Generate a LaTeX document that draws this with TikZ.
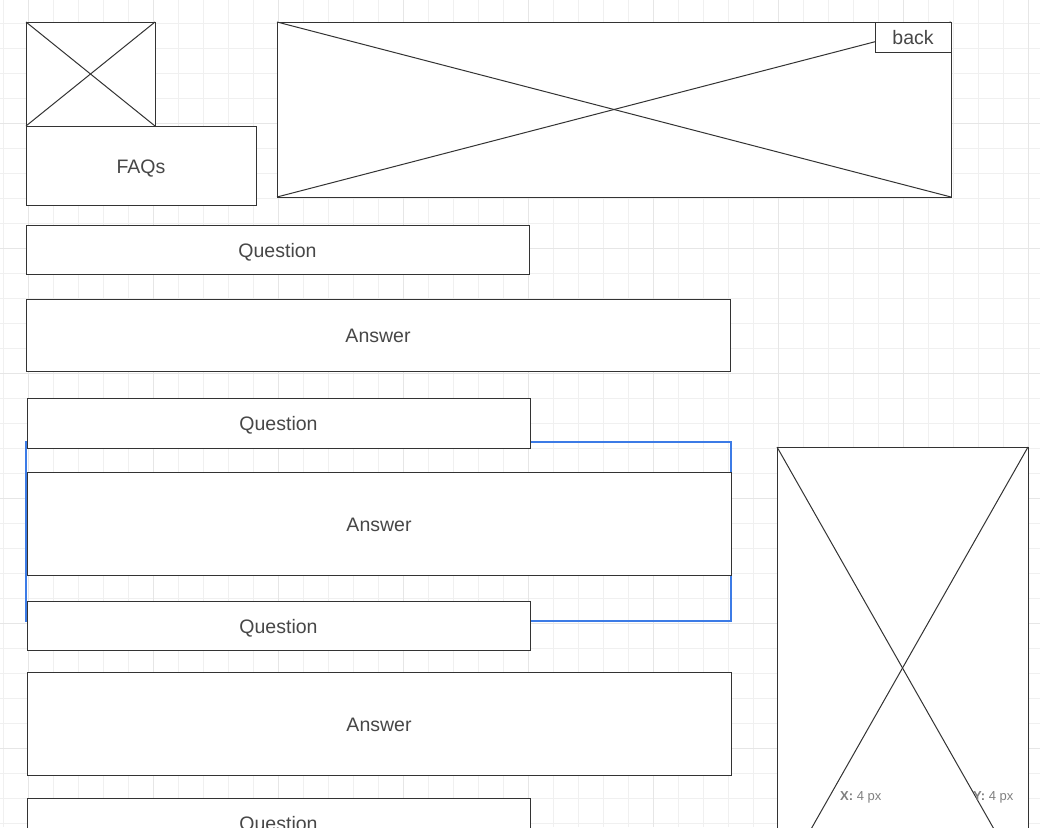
\documentclass[tikz,border=0pt]{standalone}
\usepackage{fontspec}
\setmainfont{Liberation Sans}
\usetikzlibrary{positioning}
\definecolor{ink}{HTML}{333333}
\definecolor{label}{HTML}{474747}
\definecolor{gridminor}{HTML}{F0F0F0}
\definecolor{gridmajor}{HTML}{E6E6E6}
\definecolor{selblue}{HTML}{3C7BE6}
\tikzset{box/.style = {draw=ink, fill=white, line width=1pt, inner sep=0, outer sep=0, anchor=north west,
                       text=label, text height=15pt, text depth=0pt, font=\fontsize{19.5}{23}\selectfont}}
\tikzset{cross/.style = {draw=ink, line width=1pt}}
\tikzset{coordlabel/.style = {text=gray, font=\fontsize{13}{15}\selectfont, inner sep=0, anchor=west}}

\begin{document}
\begin{tikzpicture}[x=1pt, y=-1pt]
  \useasboundingbox (0,0) rectangle (1040,827);
  \clip (0,0) rectangle (1040,827);
  \fill [white] (0,0) rectangle (1040,827);

  \foreach \g in {0,...,41} \draw [gridminor, line width=0.9pt] (3+25*\g,0) -- (3+25*\g,827);
  \foreach \g in {1,...,33} \draw [gridminor, line width=0.9pt] (0,-2+25*\g) -- (1040,-2+25*\g);
  \foreach \g in {0,...,8} \draw [gridmajor, line width=1pt] (28+125*\g,0) -- (28+125*\g,827);
  \foreach \g in {1,...,6} \draw [gridmajor, line width=1pt] (0,-2+125*\g) -- (1040,-2+125*\g);

  \draw [selblue, line width=1.2pt] (26,442) rectangle (731,621);

  \node [box, minimum width=129pt, minimum height=104pt] (logo) at (26,22) {};
  \draw [cross] (logo.north west) -- (logo.south east);
  \draw [cross] (logo.south west) -- (logo.north east);
  \node [box, minimum width=230pt, minimum height=79pt] (title) at (26,126) {FAQs};

  \node [box, minimum width=674pt, minimum height=175pt] (banner) at (277,22) {};
  \draw [cross] (banner.north west) -- (banner.south east);
  \draw [cross] (banner.south west) -- (banner.north east);
  \node [box, minimum width=76pt, minimum height=30pt] (back) at (875,22) {back};

  \node [box, minimum width=503pt, minimum height=49pt] (q1) at (26,225) {Question};
  \node [box, minimum width=704pt, minimum height=72pt] (a1) at (26,299) {Answer};
  \node [box, minimum width=503pt, minimum height=50pt] (q2) at (27,398) {Question};
  \node [box, minimum width=704pt, minimum height=103pt] (a2) at (27,472) {Answer};
  \node [box, minimum width=503pt, minimum height=49pt] (q3) at (27,601) {Question};
  \node [box, minimum width=704pt, minimum height=103pt] (a3) at (27,672) {Answer};
  \node [box, minimum width=503pt, minimum height=49pt] (q4) at (27,798) {Question};

  \node [box, minimum width=251pt, minimum height=442pt] (side) at (777,447) {};
  \draw [cross] (side.north west) -- (side.south east);
  \draw [cross] (side.south west) -- (side.north east);

  \node [coordlabel] (xpos) at (840,797) {\textbf{X:} 4 px};
  \node [coordlabel] (ypos) at (973,797) {\textbf{Y:} 4 px};
\end{tikzpicture}
\end{document}
